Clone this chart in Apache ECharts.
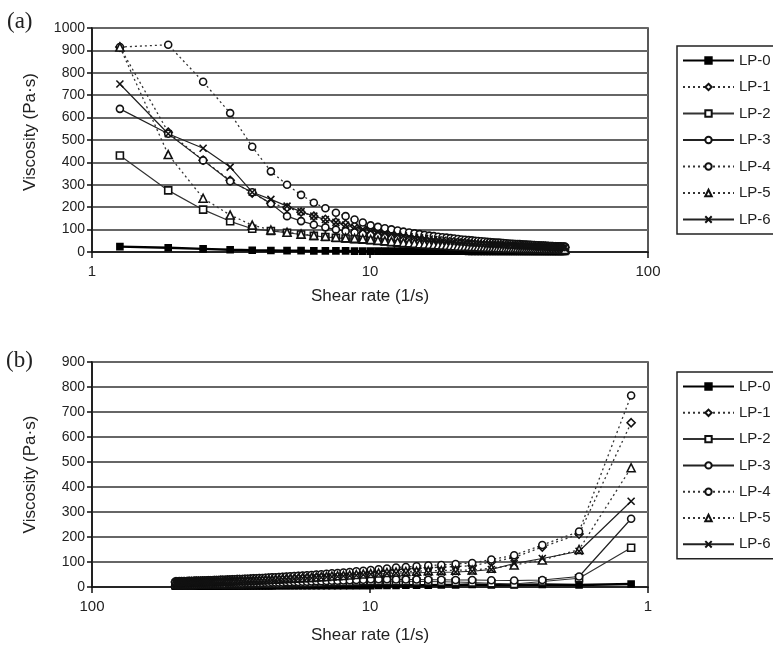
<!DOCTYPE html>
<html><head><meta charset="utf-8">
<script src="https://cdn.jsdelivr.net/npm/echarts@6/dist/echarts.min.js"></script>
<style>html,body{margin:0;padding:0;background:#fff}#c{width:773px;height:656px}</style>
</head><body><div id="c"></div>
<script>
const seriesNames = ['LP-0','LP-1','LP-2','LP-3','LP-4','LP-5','LP-6'];

// Panel (a): increasing shear rate (1/s)
const shearRateA = [1.26,1.88,2.51,3.14,3.77,4.40,5.03,5.65,6.28,6.91,
 7.54,8.17,8.80,9.42,10.05,10.68,11.31,11.94,12.57,13.19,
 13.82,14.45,15.08,15.71,16.34,16.96,17.59,18.22,18.85,19.48,
 20.11,20.73,21.36,21.99,22.62,23.25,23.88,24.50,25.13,25.76,
 26.39,27.02,27.65,28.27,28.90,29.53,30.16,30.79,31.42,32.04,
 32.67,33.30,33.93,34.56,35.19,35.81,36.44,37.07,37.70,38.33,
 38.96,39.58,40.21,40.84,41.47,42.10,42.73,43.35,43.98,44.61,
 45.24,45.87,46.50,47.12,47.75,48.38,49.01,49.64,50.27];

const lp0A = [24,19,14,10,8,7,6,6,5,5,5,5,4,4,
 4,4,4,4,4,4,4,4,4,4, 4,4,4,4,4,4,4,4,4,4,
 3,3,3,3,3,3,3,3,3,3, 3,3,3,3,3,3,3,3,3,3,
 3,3,3,3,3,2,2,2,2,2, 2,2,2,2,2,2,2,2,2,2, 2,2,2,2,2];
const lp1A = [915,535,410,320,263,218,198,178,160,146,134,124,116,110,
 105,98,93,88,84,80,76,73,70,67, 64,62,60,58,56,54,52,51,49,48,
 46,45,44,43,42,41,40,39,38,37, 36,36,35,34,33,33,32,32,31,30,
 30,29,29,28,28,27,27,27,26,26, 25,25,25,24,24,23,23,23,23,22, 22,22,21,21,21];
const lp2A = [431,275,189,137,104,94,86,78,72,67,63,60,57,55,
 53,50,47,44,42,40,38,37,35,34, 32,31,30,29,28,27,26,26,25,24,
 23,23,22,22,21,21,20,20,19,19, 18,18,18,17,17,17,16,16,16,15,
 15,15,15,14,14,14,14,13,13,13, 13,13,12,12,12,12,12,12,11,11, 11,11,11,11,11];
const lp3A = [639,528,409,316,267,216,160,138,122,110,100,93,87,82,
 78,73,69,65,62,59,56,54,52,50, 48,46,44,43,41,40,39,38,37,36,
 35,34,33,32,31,30,30,29,28,28, 27,26,26,25,25,24,24,23,23,23,
 22,22,21,21,21,20,20,20,19,19, 19,19,18,18,18,18,17,17,17,17, 16,16,16,16,16];
const lp4A = [915,925,760,620,470,360,300,255,220,195,175,160,145,132,
 119,112,106,101,96,91,87,83,80,76, 73,71,68,66,64,62,60,58,56,55,
 53,52,50,49,48,47,45,44,43,42, 42,41,40,39,38,37,37,36,35,35,
 34,33,33,32,32,31,31,30,30,29, 29,29,28,28,27,27,27,26,26,25, 25,25,24,24,24];
const lp5A = [915,435,240,165,120,98,88,80,74,70,66,63,61,59,
 56,52,50,47,45,42,41,39,37,36, 34,33,32,31,30,29,28,27,26,26,
 25,24,24,23,22,22,21,21,20,20, 19,19,19,18,18,18,17,17,17,16,
 16,16,15,15,15,15,14,14,14,14, 14,13,13,13,13,13,12,12,12,12, 12,12,11,11,11];
const lp6A = [750,528,463,379,267,235,205,180,160,145,132,120,110,101,
 95,89,84,80,76,72,69,66,63,61, 58,56,54,52,50,49,47,46,45,43,
 42,41,40,39,38,37,36,35,34,34, 33,32,32,31,30,30,29,29,28,28,
 27,27,26,26,25,25,24,24,24,23, 23,23,22,22,22,21,21,21,20,20, 20,20,19,19,19];

// Panel (b): decreasing shear rate (1/s)
const shearRateB = [50.16,49.53,48.90,48.27,47.64,47.01,46.39,45.76,45.13,44.50,
 43.87,43.24,42.62,41.99,41.36,40.73,40.10,39.47,38.85,38.22,
 37.59,36.96,36.33,35.70,35.08,34.45,33.82,33.19,32.56,31.93,
 31.31,30.68,30.05,29.42,28.79,28.16,27.54,26.91,26.28,25.65,
 25.02,24.39,23.77,23.14,22.51,21.88,21.25,20.62,20.00,19.37,
 18.74,18.11,17.48,16.85,16.23,15.60,14.97,14.34,13.71,13.08,
 12.46,11.83,11.20,10.57,9.94,9.31,8.69,8.06,7.43,6.80,
 6.17,5.54,4.92,4.29,3.66,3.03,2.40,1.77,1.15];

const lp0B = [3,3,3,3,3,3,3,3,3,3, 3,3,3,3,3,3,3,3,3,3, 3,3,3,3,3,4,4,4,4,4,
 4,4,4,4,4,4,4,4,4,4, 4,4,4,4,4,5,5,5,5,5, 5,5,5,5,5,5,5,5,5,5, 5,5,5,5,5,
 6,6,6,7,7,7,8,8,10,8,8,10,8,12];
const lp1B = [20,20,20,21,21,21,21,21,22,22, 22,22,23,23,23,23,23,23,23,24,
 24,24,25,25,25,26,26,26,27,27, 28,28,29,29,29,30,30,31,32,32,
 32,32,33,34,35,35,36,37,38,39, 40,41,41,42,43,45,46,48,50,50, 52,54,57,59,61,
 64,67,70,72,75,77,79,82,85,100,118,160,212,657];
const lp2B = [8,8,8,8,8,8,8,8,8,8, 8,8,9,9,9,9,9,9,9,9,
 9,9,10,10,10,10,10,10,11,11, 11,11,11,11,11,12,12,12,12,12,
 13,13,13,13,14,14,14,14,15,15, 15,16,16,16,17,18,18,19,19,20, 20,21,22,23,24,
 24,24,23,23,22,22,21,20,18,15,12,22,35,157];
const lp3B = [10,10,10,10,10,10,10,10,11,11, 11,11,11,11,11,11,12,12,12,12,
 12,12,13,13,13,13,13,13,14,14, 14,14,14,14,14,15,15,15,16,16,
 16,16,17,17,18,18,18,18,19,19, 20,20,21,21,22,23,23,24,25,25, 26,27,28,29,31,
 31,31,30,30,30,29,29,28,28,27,26,28,42,273];
const lp4B = [22,22,22,23,23,23,23,23,24,24, 24,24,25,25,25,25,26,26,26,27,
 27,27,28,28,28,29,29,29,30,30, 31,31,32,32,32,33,33,34,35,35,
 36,36,37,38,39,39,40,41,42,43, 44,45,46,47,48,50,51,53,55,56, 58,60,63,65,68,
 71,74,78,80,83,86,88,92,96,110,127,168,222,766];
const lp5B = [18,18,18,18,18,18,18,18,19,19, 19,19,20,20,20,20,21,21,21,22,
 22,22,22,22,22,23,23,23,24,24, 25,25,26,26,26,26,26,27,28,28,
 29,29,30,30,31,31,32,33,34,34, 35,36,37,38,38,40,41,42,44,45, 46,48,50,52,54,
 56,58,60,62,63,65,66,67,68,75,88,108,150,477];
const lp6B = [17,17,17,17,17,17,17,17,18,18, 18,18,19,19,19,19,20,20,20,20,
 20,20,21,21,21,22,22,22,23,23, 23,23,24,24,24,25,25,26,26,26,
 27,27,28,29,29,29,30,31,32,32, 33,34,35,35,36,38,38,40,41,42, 44,45,47,49,51,
 52,54,55,56,57,58,59,60,63,70,94,114,143,343];

const yA = [lp0A,lp1A,lp2A,lp3A,lp4A,lp5A,lp6A];
const yB = [lp0B,lp1B,lp2B,lp3B,lp4B,lp5B,lp6B];

const looks = [
 {symbol:'rect', size:6, fill:'#000', border:'#000', dash:'solid', lw:2.4, lc:'#000'},
 {symbol:'diamond', size:8, fill:'#fff', border:'#111', dash:[2,3], lw:1.3, lc:'#333'},
 {symbol:'rect', size:7, fill:'#fff', border:'#111', dash:'solid', lw:1.2, lc:'#333'},
 {symbol:'circle', size:7, fill:'#fff', border:'#111', dash:'solid', lw:1.2, lc:'#222'},
 {symbol:'circle', size:7, fill:'#fff', border:'#111', dash:[2,3], lw:1.3, lc:'#333'},
 {symbol:'triangle', size:8, fill:'#fff', border:'#111', dash:[2,3], lw:1.3, lc:'#333'},
 {symbol:'path://M0,0L10,10M10,0L0,10', size:7, fill:'#111', border:'#111', dash:'solid', lw:1.2, lc:'#222'}
];

function makeSeries(xs, ys, gi) {
  return seriesNames.map((nm, i) => ({
    name: nm, type: 'line', xAxisIndex: gi, yAxisIndex: gi,
    data: xs.map((x, j) => [x, ys[i][j]]),
    symbol: looks[i].symbol, symbolSize: looks[i].size,
    itemStyle: {color: looks[i].fill, borderColor: looks[i].border, borderWidth: 1.6},
    lineStyle: {color: looks[i].lc, width: looks[i].lw, type: looks[i].dash},
    emphasis: {disabled: true}, animation: false
  }));
}

const font = 'Liberation Sans, Arial, sans-serif';
function xAxis(gi, inverse) {
  return {
    type: 'log', logBase: 10, min: 1, max: 100, gridIndex: gi, inverse: inverse,
    axisLine: {show: true, lineStyle: {color: '#111', width: 1.5}},
    axisTick: {show: true, length: 6, lineStyle: {color: '#111', width: 1.5}},
    axisLabel: {fontSize: 15, color: '#222', fontFamily: font, margin: 12},
    splitLine: {show: false}, minorTick: {show: false},
    name: 'Shear rate (1/s)', nameLocation: 'middle', nameGap: gi === 0 ? 36 : 40,
    nameTextStyle: {fontSize: 17, color: '#222', fontFamily: font}
  };
}
function yAxis(gi, max) {
  return {
    type: 'value', min: 0, max: max, interval: 100, gridIndex: gi,
    axisLine: {show: true, lineStyle: {color: '#111', width: 1.5}},
    axisTick: {show: true, length: 5, lineStyle: {color: '#111', width: 1.5}},
    axisLabel: {fontSize: 14, color: '#222', fontFamily: font, margin: 7, formatter: v => String(v)},
    splitLine: {show: true, lineStyle: {color: '#666', width: 2}},
    name: 'Viscosity (Pa·s)', nameLocation: 'middle', nameGap: 53,
    nameTextStyle: {fontSize: 17, color: '#222', fontFamily: font, padding: gi === 0 ? [0, 0, 0, 16] : 0}
  };
}
function legend(top, gap) {
  return {
    data: seriesNames, orient: 'vertical', left: 677, top: top,
    itemWidth: 51, itemHeight: 8, itemGap: gap,
    padding: [7, 30, 7, 5],
    borderColor: '#222', borderWidth: 1.5, backgroundColor: '#fff',
    textStyle: {fontSize: 15, color: '#222', fontFamily: font},
    selectedMode: false
  };
}

const chart = echarts.init(document.getElementById('c'), null, {renderer: 'canvas'});
chart.setOption({
  backgroundColor: '#fff',
  animation: false,
  grid: [
    {left: 92, top: 28, width: 556, height: 224, show: true, borderColor: '#222', borderWidth: 1.5, backgroundColor: 'transparent'},
    {left: 92, top: 362, width: 556, height: 225, show: true, borderColor: '#222', borderWidth: 1.5, backgroundColor: 'transparent'}
  ],
  xAxis: [xAxis(0, false), xAxis(1, true)],
  yAxis: [yAxis(0, 1000), yAxis(1, 900)],
  legend: [legend(46, 11.5), legend(372, 11.3)],
  graphic: [
    {type: 'text', left: 7, top: 10, style: {text: '(a)', fontSize: 23, fontFamily: 'Liberation Serif, Times New Roman, serif', fill: '#222'}},
    {type: 'text', left: 6, top: 349, style: {text: '(b)', fontSize: 23, fontFamily: 'Liberation Serif, Times New Roman, serif', fill: '#222'}}
  ],
  series: makeSeries(shearRateA, yA, 0).concat(makeSeries(shearRateB, yB, 1))
});
</script></body></html>
